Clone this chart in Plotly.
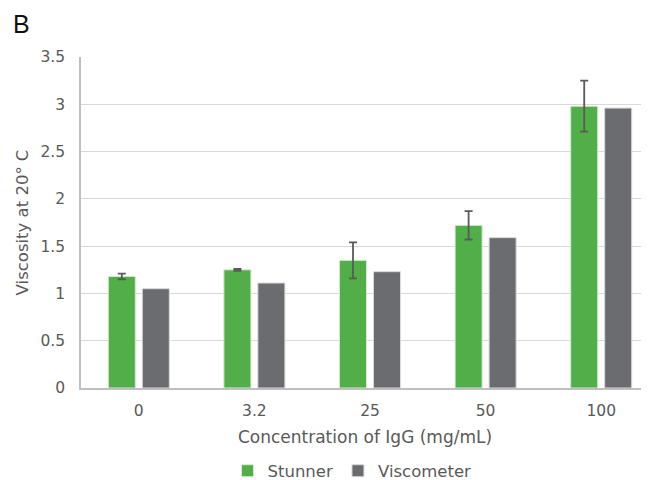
import plotly.graph_objects as go

categories = ["0", "3.2", "25", "50", "100"]
stunner = [1.18, 1.25, 1.35, 1.72, 2.98]
stunner_err = [0.03, 0.01, 0.19, 0.15, 0.27]
viscometer = [1.05, 1.11, 1.23, 1.59, 2.96]

green = "#52AE48"
gray = "#6B6C70"
text_col = "#595959"

# page has an 8px body margin, so the figure is 8px smaller than the window
W, H = 641, 472
L, T, B_, R = 73, 49, 92, 0
PW, PH = W - L - R, H - T - B_

fig = go.Figure()
fig.add_trace(go.Bar(
    x=categories, y=stunner, name="Stunner",
    marker=dict(color=green, line=dict(color="#D6EBD3", width=1)),
    error_y=dict(type="data", array=stunner_err, visible=True,
                 color="#5A5A5A", thickness=1.8, width=4),
))
fig.add_trace(go.Bar(
    x=categories, y=viscometer, name="Viscometer",
    marker=dict(color=gray, line=dict(color="#DADADA", width=1)),
))

font_family = "DejaVu Sans"
fig.update_layout(
    width=W, height=H,
    margin=dict(l=L, r=R, t=T, b=B_, autoexpand=False),
    paper_bgcolor="white", plot_bgcolor="white",
    barmode="group", bargap=0.412, bargroupgap=0.204,
    font=dict(family=font_family, size=15, color=text_col),
    showlegend=True,
    legend=dict(orientation="h", x=(344 - L) / PW, xanchor="center",
                y=-(463 - (T + PH)) / PH, yanchor="middle",
                font=dict(size=16.5, color=text_col), itemwidth=30,
                traceorder="normal"),
)
fig.add_annotation(text="B", xref="paper", yref="paper",
                   x=(3 - L) / PW, y=1 + (T - 16) / PH,
                   xanchor="left", yanchor="middle", showarrow=False,
                   font=dict(family="Liberation Sans", size=25, color="#111111"))

fig.update_xaxes(
    type="category", range=[-0.5, -0.5 + PW / 115.6], automargin=False,
    showgrid=False, showline=True, linecolor="#BFBFBF", linewidth=1.5,
    ticks="", ticklabelstandoff=8, tickfont=dict(size=15.5, color=text_col),
    title=dict(text="Concentration of IgG (mg/mL)", standoff=12,
               font=dict(size=17, color=text_col)),
)
fig.update_yaxes(
    range=[0, 3.5], automargin=False,
    tickvals=[0, 0.5, 1, 1.5, 2, 2.5, 3, 3.5],
    ticktext=["0", "0.5", "1", "1.5", "2", "2.5", "3", "3.5"],
    showgrid=True, gridcolor="#D9D9D9", gridwidth=1.2,
    showline=True, linecolor="#BFBFBF", linewidth=1.5,
    zeroline=False, ticks="", ticklabelstandoff=11,
    tickfont=dict(size=15.5, color=text_col),
    title=dict(text="Viscosity at 20° C", standoff=8,
               font=dict(size=16.5, color=text_col)),
)

fig.write_html("out.html")
